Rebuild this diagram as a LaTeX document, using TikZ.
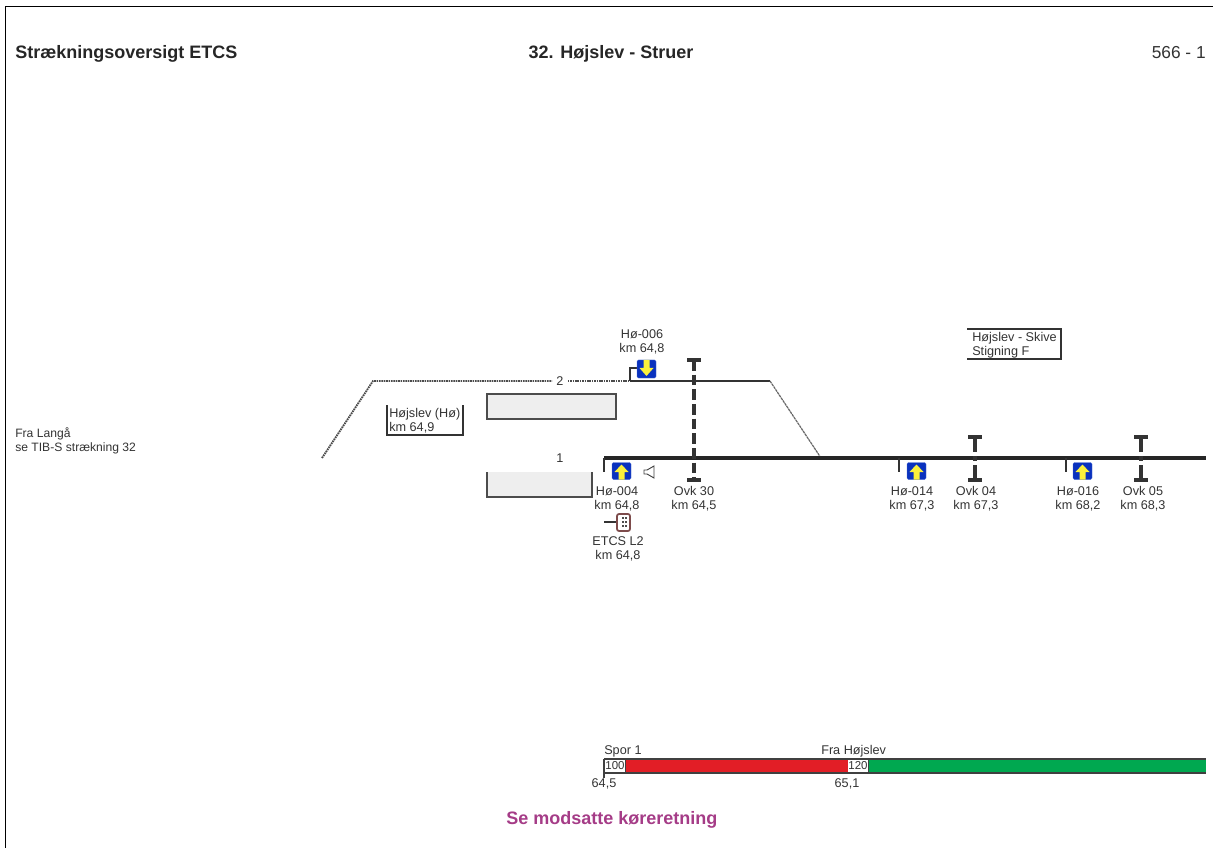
\documentclass[tikz,border=0pt]{standalone}
\usepackage{fontspec}
\setmainfont{Liberation Sans}
\usepackage{xcolor}
\definecolor{sigblue}{RGB}{10,50,190}
\definecolor{sigyellow}{RGB}{250,240,60}
\definecolor{barred}{RGB}{226,30,38}
\definecolor{bargreen}{RGB}{0,168,80}
\definecolor{platgray}{RGB}{238,238,238}
\definecolor{etcsbrown}{RGB}{125,75,75}
\definecolor{notepurple}{RGB}{165,60,135}
\tikzset{
  headtext/.style={font=\fontsize{13.5pt}{15pt}\selectfont\bfseries,text=black!85,inner sep=0pt},
  smalltext/.style={font=\fontsize{9.5pt}{10.5pt}\selectfont,text=black!80,align=center,inner sep=0pt},
  lefttext/.style={smalltext,align=left,anchor=west},
  thintrack/.style={line width=0.8pt,black!80},
  dottrack/.style={line width=1.4pt,black!70,dash pattern=on 1.2pt off 0.6pt},
  maintrack/.style={line width=2.4pt,black!85},
  ovkbar/.style={line width=2.3pt,black!80},
  platform/.style={fill=platgray,draw=none},
  platedge/.style={line width=0.8pt,black!70},
  signbox/.style={fill=sigblue,rounded corners=1pt,draw=sigblue!70,line width=0.3pt},
  signarrow/.style={fill=sigyellow,draw=none}
}
\begin{document}
\begin{tikzpicture}[x=0.75pt,y=-0.75pt]
        \useasboundingbox (0,0) rectangle (1213,848);
        % yellow arrow signs
        \newcommand{\signup}[2]{
          \fill[signbox] (#1-9.5,#2-8.5) rectangle (#1+9.5,#2+8.5);
          \fill[signarrow] (#1,#2-6.5) -- (#1+7,#2+1) -- (#1+3,#2+1) -- (#1+3,#2+8.5) -- (#1-3,#2+8.5) -- (#1-3,#2+1) -- (#1-7,#2+1) -- cycle;
        }
        \newcommand{\signdown}[2]{
          \fill[signbox] (#1-9.5,#2-9) rectangle (#1+9.5,#2+9);
          \fill[signarrow] (#1,#2+7) -- (#1+7,#2-1) -- (#1+3,#2-1) -- (#1+3,#2-9) -- (#1-3,#2-9) -- (#1-3,#2-1) -- (#1-7,#2-1) -- cycle;
        }
        % level crossing bars
        \newcommand{\ovk}[3]{
          \draw[ovkbar] (#1-7,#2) -- (#1+7,#2);
          \draw[ovkbar] (#1-7,480) -- (#1+7,480);
          \draw[ovkbar,dash pattern=#3] (#1,#2) -- (#1,480);
        }

        % frame
        \draw[line width=0.9pt,black] (5.7,848) -- (5.7,6.5) -- (1213,6.5);

        % headings
        \node[headtext,anchor=west] (heading) at (15,54) {Strækningsoversigt ETCS};
        \node[headtext,anchor=center] (route) at (611,54) {32. Højslev - Struer};
        \node[font=\fontsize{13pt}{15pt}\selectfont,text=black!80,inner sep=0pt,anchor=east] (sheet) at (1206,53) {566 - 1};

        % platforms
        \fill[platform] (487,394) rectangle (616,419);
        \draw[platedge] (487,394) rectangle (616,419);
        \fill[platform] (487,472) rectangle (592,497);
        \draw[platedge] (487,472) -- (487,497) -- (592,497) -- (592,472);

        % tracks
        \coordinate (farleft) at (322,458);
        \coordinate (bendleft) at (373,381);
        \coordinate (stub) at (630,381);
        \coordinate (bendright) at (770,381);
        \coordinate (joint) at (821,458);
        \coordinate (oneleft) at (604,458);
        \coordinate (oneright) at (1206,458);
        \node[smalltext,fill=white,inner xsep=3pt] (sportwo) at (560,381) {2};
        \node[smalltext] (sporone) at (560,458) {1};
        \draw[dottrack] (farleft) -- (bendleft) -- (sportwo.west);
        \draw[dottrack] (sportwo.east) -- (stub);
        \draw[thintrack] (stub) -- (bendright);
        \draw[line width=0.9pt,black!60,dash pattern=on 2pt off 0.5pt] (bendright) -- (joint);
        \draw[maintrack] (oneleft) -- (oneright);
        \draw[thintrack] (oneleft) -- (604,472);
        \draw[thintrack] (899,458) -- (899,472);
        \draw[thintrack] (1066,458) -- (1066,472);

        % signs
        \draw[thintrack] (stub) -- (630,368) -- (638,368);
        \signdown{646.5}{369}
        \signup{621.5}{471}
        \signup{916.5}{471}
        \signup{1082.5}{471}

        % horn
        \draw[line width=0.7pt,black!75] (644,470) -- (647,470) -- (654,466) -- (654,478) -- (647,474) -- (644,474) -- cycle;

        % level crossings
        \ovk{694}{360}{on 8pt off 3pt}
        \ovk{975}{437}{on 11.2pt off 3pt on 4pt off 3pt on 10pt off 3pt}
        \ovk{1141}{437}{on 11.2pt off 3pt on 4pt off 3pt on 10pt off 3pt}

        % ETCS marker
        \draw[line width=1.8pt,black!80] (604,522) -- (617,522);
        \draw[etcsbrown,line width=1.3pt,fill=white,rounded corners=1.5pt] (617,514) rectangle (630,531);
        \foreach \yy in {518,522,526} {
          \fill[black!70] (621.5,\yy-0.8) rectangle (623.5,\yy+0.8);
          \fill[black!70] (625,\yy-0.8) rectangle (627,\yy+0.8);
        }

        % labels
        \node[smalltext] (hoSix) at (642,342) {Hø-006\\km 64,8};
        \node[smalltext] (hoFour) at (617,499) {Hø-004\\km 64,8};
        \node[smalltext] (etcsLabel) at (618,549) {ETCS L2\\km 64,8};
        \node[smalltext] (ovkThirty) at (694,499) {Ovk 30\\km 64,5};
        \node[smalltext] (hoFourteen) at (912,499) {Hø-014\\km 67,3};
        \node[smalltext] (ovkFour) at (976,499) {Ovk 04\\km 67,3};
        \node[smalltext] (hoSixteen) at (1078,499) {Hø-016\\km 68,2};
        \node[smalltext] (ovkFive) at (1143,499) {Ovk 05\\km 68,3};
        \node[lefttext,font=\fontsize{9.1pt}{10.9pt}\selectfont] (fromLanga) at (15,441) {Fra Langå\\se TIB-S strækning 32};

        % info boxes
        \node[lefttext] (station) at (389,421) {Højslev (Hø)\\km 64,9};
        \draw[thintrack] (387,405) -- (387,435) -- (463,435) -- (463,405);
        \node[lefttext] (slope) at (972,345) {Højslev - Skive\\Stigning F};
        \draw[thintrack] (967,329) -- (1061,329) -- (1061,359) -- (967,359);

        % speed profile
        \fill[barred] (625,759) rectangle (848,773);
        \fill[bargreen] (868,759) rectangle (1206,773);
        \draw[line width=0.8pt,black!75] (604,759) -- (1206,759);
        \draw[line width=0.8pt,black!75] (604,773) -- (1206,773);
        \draw[line width=0.8pt,black!75] (604,759) -- (604,778);
        \draw[line width=0.6pt,black!75] (625,759) -- (625,773);
        \draw[line width=0.6pt,black!75] (868,759) -- (868,773);
        \node[smalltext,font=\fontsize{8.6pt}{10pt}\selectfont] (speedA) at (615,766) {100};
        \node[smalltext,font=\fontsize{8.6pt}{10pt}\selectfont] (speedB) at (858,766) {120};
        \node[smalltext,anchor=west] (sporLabel) at (604,751) {Spor 1};
        \node[smalltext,anchor=west] (fraLabel) at (821,751) {Fra Højslev};
        \node[smalltext] (kmA) at (604,784) {64,5};
        \node[smalltext] (kmB) at (847,784) {65,1};

        % note
        \node[font=\fontsize{13.5pt}{15pt}\selectfont\bfseries,text=notepurple,inner sep=0pt,anchor=west] (note) at (506,820) {Se modsatte køreretning};
\end{tikzpicture}
\end{document}
